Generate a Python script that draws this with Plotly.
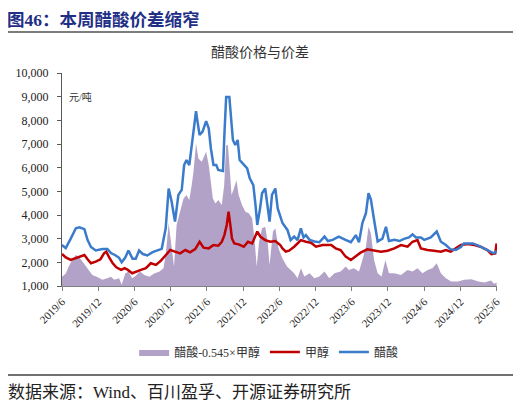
import plotly.graph_objects as go

# 醋酸 (acetic acid), 元/吨
acetic_dates = ["2019-06-01", "2019-06-20", "2019-07-15", "2019-08-10", "2019-08-28", "2019-09-22", "2019-10-08",
                "2019-10-25", "2019-11-18", "2019-12-22", "2020-01-16", "2020-02-03", "2020-02-25", "2020-03-15",
                "2020-03-28", "2020-04-15", "2020-05-01", "2020-05-22", "2020-06-07", "2020-06-24", "2020-07-13",
                "2020-08-04", "2020-08-31", "2020-09-24", "2020-10-16", "2020-11-05", "2020-11-20", "2020-12-05",
                "2020-12-22", "2021-01-08", "2021-01-25", "2021-02-06", "2021-02-18", "2021-03-04", "2021-03-16",
                "2021-03-28", "2021-04-07", "2021-04-12", "2021-04-25", "2021-05-10", "2021-05-28", "2021-06-10",
                "2021-06-21", "2021-07-04", "2021-07-18", "2021-07-28", "2021-08-21", "2021-08-28", "2021-09-06",
                "2021-09-22", "2021-10-01", "2021-10-10", "2021-10-22", "2021-11-03", "2021-11-13", "2021-12-04",
                "2021-12-21", "2022-01-03", "2022-01-21", "2022-02-01", "2022-02-10", "2022-02-24", "2022-03-06",
                "2022-03-22", "2022-04-03", "2022-04-13", "2022-04-25", "2022-05-12", "2022-05-24", "2022-06-06",
                "2022-06-17", "2022-07-12", "2022-07-28", "2022-08-15", "2022-09-01", "2022-09-18", "2022-10-01",
                "2022-10-13", "2022-11-01", "2022-11-25", "2022-12-20", "2023-01-15", "2023-02-01", "2023-02-25",
                "2023-03-28", "2023-05-01", "2023-05-28", "2023-06-22", "2023-07-08", "2023-07-25", "2023-08-12",
                "2023-08-25", "2023-09-06", "2023-09-22", "2023-10-10", "2023-11-03", "2023-11-21", "2023-12-06",
                "2024-01-02", "2024-01-28", "2024-02-20", "2024-03-16", "2024-04-03", "2024-04-20", "2024-05-15",
                "2024-06-01", "2024-07-04", "2024-08-03", "2024-08-24", "2024-09-18", "2024-10-12", "2024-11-07",
                "2024-12-03", "2024-12-18", "2025-02-01", "2025-03-04", "2025-04-06", "2025-05-01", "2025-05-18",
                "2025-06-01"]
acetic = [2730, 2600, 3000, 3440, 3480, 3400, 2940,
          2650, 2500, 2560, 2560, 2390, 2300, 2190,
          2000, 2200, 2500, 2150, 2150, 2500, 2350,
          2290, 2430, 2500, 2570, 3440, 5120, 4560,
          3720, 4850, 5060, 6110, 6320, 6110, 6880,
          7520, 8390, 8080, 7380, 7520, 7970, 7660,
          6810, 6110, 6110, 5900, 5860, 7380, 8990,
          8990, 8220, 7170, 6960, 7170, 6320, 6110,
          5970, 5550, 5260, 4420, 3580, 4280, 4920,
          5120, 4420, 3720, 4850, 5120, 4280, 3930,
          3660, 3370, 2940, 3090, 2940, 3440, 3050,
          3150, 2950, 2880, 2850, 3090, 2900, 2950,
          3090, 2950, 2850, 3150, 2850, 3660, 4080,
          4920, 4650, 3800, 2880, 3000, 3500, 2900,
          2950, 2900, 2990, 3050, 3180, 3050, 3050,
          2950, 3050, 3300, 2870, 2730, 2550, 2520,
          2650, 2800, 2800, 2700, 2550, 2450, 2380,
          2480]

# 甲醇 (methanol), 元/吨
methanol_dates = ["2019-06-01", "2019-06-20", "2019-07-15", "2019-08-10", "2019-09-04", "2019-09-22", "2019-10-08",
                  "2019-10-25", "2019-11-18", "2019-12-12", "2019-12-30", "2020-01-10", "2020-01-25", "2020-02-12",
                  "2020-03-01", "2020-03-25", "2020-04-12", "2020-04-28", "2020-05-20", "2020-06-07", "2020-07-03",
                  "2020-07-28", "2020-08-22", "2020-09-17", "2020-10-12", "2020-11-06", "2020-11-28", "2020-12-22",
                  "2021-01-17", "2021-02-12", "2021-03-08", "2021-04-03", "2021-04-25", "2021-05-15", "2021-06-10",
                  "2021-07-04", "2021-07-28", "2021-08-15", "2021-08-28", "2021-09-09", "2021-09-18", "2021-09-27",
                  "2021-10-05", "2021-10-17", "2021-11-08", "2021-12-04", "2021-12-25", "2022-01-15", "2022-02-10",
                  "2022-02-26", "2022-03-22", "2022-04-17", "2022-05-12", "2022-06-06", "2022-06-17", "2022-07-04",
                  "2022-07-20", "2022-08-15", "2022-09-18", "2022-10-13", "2022-11-08", "2022-12-03", "2023-01-06",
                  "2023-02-18", "2023-03-12", "2023-04-06", "2023-05-02", "2023-05-28", "2023-06-22", "2023-07-16",
                  "2023-08-19", "2023-09-22", "2023-10-26", "2023-11-29", "2024-01-02", "2024-02-05", "2024-03-09",
                  "2024-04-03", "2024-04-28", "2024-05-15", "2024-06-17", "2024-07-20", "2024-08-24", "2024-09-18",
                  "2024-10-12", "2024-11-07", "2024-12-03", "2025-01-06", "2025-02-09", "2025-03-12", "2025-04-15",
                  "2025-05-06", "2025-05-25", "2025-06-01"]
methanol = [2350, 2210, 2100, 2170, 2270, 2310, 2130,
            1960, 2030, 2130, 2380, 2450, 2210, 1960,
            1790, 1680, 1750, 1680, 1540, 1610, 1680,
            1750, 1960, 1890, 2070, 2310, 2520, 2450,
            2380, 2520, 2420, 2560, 2870, 2620, 2590,
            2730, 2700, 2870, 3150, 3580, 4140, 3580,
            3010, 2800, 2760, 2660, 2870, 2800, 3300,
            3080, 2940, 2870, 2900, 2730, 2590, 2450,
            2490, 2660, 2940, 2870, 2830, 2660, 2730,
            2730, 2590, 2520, 2240, 2100, 2270, 2410,
            2550, 2490, 2450, 2490, 2590, 2730, 2660,
            2870, 2940, 2590, 2520, 2490, 2450, 2520,
            2450, 2590, 2730, 2770, 2730, 2660, 2520,
            2350, 2380, 2800]

# 醋酸-0.545×甲醇 spread, 元/吨
spread_dates = ["2019-06-01", "2019-06-20", "2019-07-05", "2019-07-22", "2019-08-10", "2019-08-25", "2019-09-12",
                "2019-09-30", "2019-10-15", "2019-11-01", "2019-11-28", "2019-12-22", "2020-01-16", "2020-02-03",
                "2020-02-20", "2020-03-15", "2020-03-28", "2020-04-15", "2020-05-01", "2020-05-20", "2020-06-07",
                "2020-06-28", "2020-07-20", "2020-08-15", "2020-09-08", "2020-10-05", "2020-10-25", "2020-11-06",
                "2020-11-20", "2020-12-05", "2020-12-17", "2020-12-30", "2021-01-17", "2021-02-03", "2021-02-18",
                "2021-03-04", "2021-03-16", "2021-03-25", "2021-04-07", "2021-04-19", "2021-05-06", "2021-05-28",
                "2021-06-10", "2021-06-21", "2021-07-01", "2021-07-14", "2021-07-28", "2021-08-15", "2021-08-27",
                "2021-09-06", "2021-09-15", "2021-09-25", "2021-10-03", "2021-10-15", "2021-10-28", "2021-11-08",
                "2021-11-25", "2021-12-12", "2021-12-29", "2022-01-15", "2022-01-28", "2022-02-07", "2022-02-19",
                "2022-03-06", "2022-03-22", "2022-04-03", "2022-04-13", "2022-04-30", "2022-05-12", "2022-05-28",
                "2022-06-16", "2022-07-10", "2022-07-28", "2022-08-15", "2022-09-01", "2022-09-18", "2022-10-05",
                "2022-11-01", "2022-11-25", "2022-12-20", "2023-01-15", "2023-02-08", "2023-03-06", "2023-04-06",
                "2023-05-02", "2023-05-18", "2023-06-12", "2023-07-08", "2023-07-25", "2023-08-12", "2023-08-25",
                "2023-09-06", "2023-09-22", "2023-10-10", "2023-10-30", "2023-11-18", "2023-12-06", "2024-01-02",
                "2024-02-05", "2024-03-09", "2024-04-03", "2024-04-28", "2024-05-23", "2024-06-18", "2024-07-12",
                "2024-08-03", "2024-08-24", "2024-09-18", "2024-10-15", "2024-11-18", "2024-12-20", "2025-01-25",
                "2025-03-01", "2025-04-01", "2025-05-03", "2025-05-20", "2025-06-01"]
spread = [1390, 1530, 1820, 2100, 2310, 2240, 2030,
          1820, 1680, 1470, 1370, 1260, 1330, 1390,
          1260, 1330, 1050, 1530, 1610, 1330, 1430,
          1610, 1470, 1390, 1530, 1610, 1750, 2380,
          3650, 2730, 1820, 3580, 4210, 4700, 4850,
          4630, 5260, 5820, 7020, 6390, 6250, 6670,
          6110, 5260, 4700, 4490, 4630, 4420, 5260,
          6950, 6950, 5820, 4850, 5120, 5470, 4850,
          4420, 4140, 4070, 3860, 2870, 1820, 2870,
          3440, 3500, 2870, 1890, 3300, 3440, 2590,
          2170, 1820, 1680, 1540, 1330, 1750, 1400,
          1540, 1330, 1400, 1610, 1330, 1540, 1610,
          1820, 1680, 1750, 1610, 2100, 2660, 3500,
          3220, 2100, 1540, 1400, 2100, 1540, 1540,
          1470, 1680, 1610, 1750, 1540, 1680, 1750,
          1960, 1540, 1330, 1190, 1190, 1260, 1290,
          1190, 1150, 1230, 1090, 1150]

tick_dates = ["2019-06-01", "2019-12-01", "2020-06-01", "2020-12-01", "2021-06-01", "2021-12-01", "2022-06-01",
              "2022-12-01", "2023-06-01", "2023-12-01", "2024-06-01", "2024-12-01", "2025-06-01"]
tick_labels = ["2019/6", "2019/12", "2020/6", "2020/12", "2021/6", "2021/12", "2022/6",
               "2022/12", "2023/6", "2023/12", "2024/6", "2024/12", "2025/6"]

serif = "Times New Roman, Liberation Serif, Noto Sans CJK SC"

fig = go.Figure()
fig.add_trace(go.Scatter(x=spread_dates, y=spread, name="醋酸-0.545×甲醇", mode="lines",
                         line=dict(width=0, color="#B3A2C7"), fill="tozeroy", fillcolor="#B3A2C7"))
fig.add_trace(go.Scatter(x=methanol_dates, y=methanol, name="甲醇", mode="lines",
                         line=dict(width=2.5, color="#C00000")))
fig.add_trace(go.Scatter(x=acetic_dates, y=acetic, name="醋酸", mode="lines",
                         line=dict(width=2.5, color="#3A7BCB")))

# the page puts the figure 8px in from the top-left, so margins are 8px smaller than the picture
fig.update_layout(
    width=521, height=405,
    margin=dict(l=54, r=32, t=65, b=127, autoexpand=False),
    paper_bgcolor="white", plot_bgcolor="white",
    font=dict(family=serif, size=11, color="#222222"),
    showlegend=True,
    legend=dict(orientation="h", x=0.475, xanchor="center", y=-0.31, yanchor="middle",
                font=dict(size=12, color="#333333"), itemwidth=30, tracegroupgap=0),
)
fig.update_xaxes(type="date", range=["2019-06-01", "2025-06-03"], tickvals=tick_dates, ticktext=tick_labels,
                 tickangle=-45, showgrid=False, showline=True, linecolor="#7F7F7F", linewidth=1,
                 ticks="outside", ticklen=4, tickcolor="#7F7F7F", tickfont=dict(size=11), automargin=False)
fig.update_yaxes(range=[1000, 10000], dtick=1000, tickformat=",d", showgrid=False, showline=True,
                 linecolor="#595959", linewidth=1, ticks="outside", ticklen=4, tickcolor="#595959",
                 ticklabelstandoff=6, tickfont=dict(size=12), zeroline=False, automargin=False)

# header, chart title, unit, footer
fig.add_annotation(text="<b>图46：本周醋酸价差缩窄</b>", xref="paper", yref="paper", x=-0.128, y=1.302,
                   xanchor="left", yanchor="top", showarrow=False, borderpad=0,
                   font=dict(size=17.5, color="#1F2F86", family=serif))
fig.add_shape(type="line", xref="paper", yref="paper", x0=-0.131, x1=1.041, y0=1.192, y1=1.192,
              line=dict(color="#505050", width=1.5))
fig.add_annotation(text="醋酸价格与价差", xref="paper", yref="paper", x=0.455, y=1.094,
                   xanchor="center", yanchor="middle", showarrow=False, font=dict(size=14, color="#333333"))
fig.add_annotation(text="元/吨", xref="paper", yref="paper", x=0.012, y=0.887,
                   xanchor="left", yanchor="middle", showarrow=False, font=dict(size=10, color="#333333"))
fig.add_shape(type="line", xref="paper", yref="paper", x0=-0.131, x1=1.041, y0=-0.418, y1=-0.418,
              line=dict(color="#404040", width=1.5))
fig.add_annotation(text="数据来源：Wind、百川盈孚、开源证券研究所", xref="paper", yref="paper", x=-0.128, y=-0.5,
                   xanchor="left", yanchor="middle", showarrow=False, font=dict(size=17, color="#222222"))

fig.write_html("out.html")
